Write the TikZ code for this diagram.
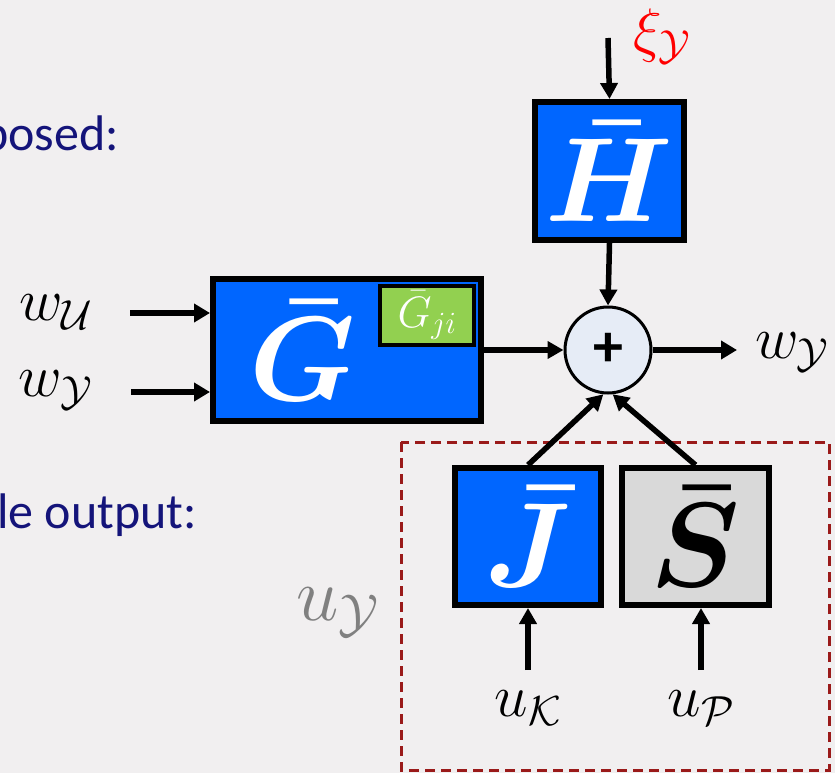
\RequirePackage{fix-cm}
\documentclass[tikz,border=0pt]{standalone}
\usepackage{fontspec}
\newfontfamily\slidefont{Carlito}
\usetikzlibrary{arrows.meta}
\definecolor{bgc}{HTML}{F1EFF0}
\definecolor{blk}{HTML}{0066FF}
\definecolor{grn}{HTML}{92D050}
\definecolor{gry}{HTML}{D9D9D9}
\definecolor{sumc}{HTML}{E6ECF6}
\definecolor{navy}{HTML}{14147A}
\definecolor{dred}{HTML}{9A1A1A}
\newcommand{\bigmath}[1]{{\fontsize{120}{130}\selectfont\boldmath$#1$}}
\newcommand{\lblmath}[1]{{\fontsize{60}{70}\selectfont$#1$}}
\begin{document}
\begin{tikzpicture}[x=1pt,y=-1pt,
  box/.style={draw=black, line width=6pt, inner sep=0pt, text=white},
  arr/.style={line width=6.5pt, -{Triangle[length=16pt,width=18pt]}},
  thinarr/.style={line width=5.5pt, -{Triangle[length=16pt,width=17pt]}},
  lbl/.style={inner sep=0pt},
  slide/.style={inner sep=0pt, text=navy, font=\slidefont\fontsize{50}{56}\selectfont}
]
\fill[bgc] (0,0) rectangle (835,773);
\useasboundingbox (0,0) rectangle (835,773);

% slide text fragments
\node[slide, anchor=base east] (t1) at (119,150) {posed:};
\node[slide, anchor=base east] (t2) at (197,528) {le output:};

% dashed region
\draw[dred, line width=3pt, dash pattern=on 10pt off 6pt] (401,442) rectangle (829,770);

% blocks
\node[box, fill=blk, minimum width=268pt, minimum height=142pt] (G) at (347,350) {};
\node[lbl, text=white] (Gt) at (303,350) {\bigmath{\bar{G}}};
\node[draw=black, line width=4pt, fill=grn, inner sep=0pt, minimum width=94pt, minimum height=59pt, text=white] (Gji) at (427,315.5)
  {{\fontsize{44}{46}\selectfont$\bar{G}_{ji}$}};
\node[box, fill=blk, minimum width=149pt, minimum height=138pt] (H) at (609.5,171) {\bigmath{\bar{H}}};
\node[box, fill=blk, minimum width=146pt, minimum height=137pt] (J) at (528,536.5) {\bigmath{\bar{J}}};
\node[box, fill=gry, text=black, minimum width=147pt, minimum height=137pt] (S) at (695.5,536.5) {\bigmath{\bar{S}}};

% summing junction
\node[circle, draw=black, line width=3pt, fill=sumc, minimum size=86pt, inner sep=0pt,
  font=\slidefont\bfseries\fontsize{60}{64}\selectfont] (sum) at (608,350) {+};

% labels
\node[lbl] (wU) at (56,312) {\lblmath{w_{\mathcal{U}}}};
\node[lbl] (wYl) at (56,390) {\lblmath{w_{\mathcal{Y}}}};
\node[lbl, text=red] (xi) at (662,36) {\lblmath{\xi_{\mathcal{Y}}}};
\node[lbl] (wYr) at (792,352) {\lblmath{w_{\mathcal{Y}}}};
\node[lbl, text=gray] (uY) at (338,612) {{\fontsize{76}{80}\selectfont$u_{\mathcal{Y}}$}};
\node[lbl] (uK) at (528,708) {\lblmath{u_{\mathcal{K}}}};
\node[lbl] (uP) at (701,708) {\lblmath{u_{\mathcal{P}}}};

% free ends
\coordinate (inU) at (130,313);
\coordinate (inY) at (131,392);
\coordinate (inH) at (608,38);
\coordinate (outY) at (737,350);
\coordinate (inJ) at (528,670);
\coordinate (inS) at (701,670);

% connectors
\draw[arr] (inU) -- (inU -| G.west);
\draw[arr] (inY) -- (inY -| G.west);
\draw[thinarr] (inH) -- (H.north);
\draw[thinarr] (H.south) -- (sum.north);
\draw[thinarr] (G.east) -- (sum.west);
\draw[arr] (sum.east) -- (outY);
\draw[thinarr] (J.north) -- (sum.264);
\draw[thinarr] (S.north) -- (sum.276);
\draw[thinarr] (inJ) -- (J.south);
\draw[thinarr] (inS) -- (inS |- S.south);
\end{tikzpicture}
\end{document}
